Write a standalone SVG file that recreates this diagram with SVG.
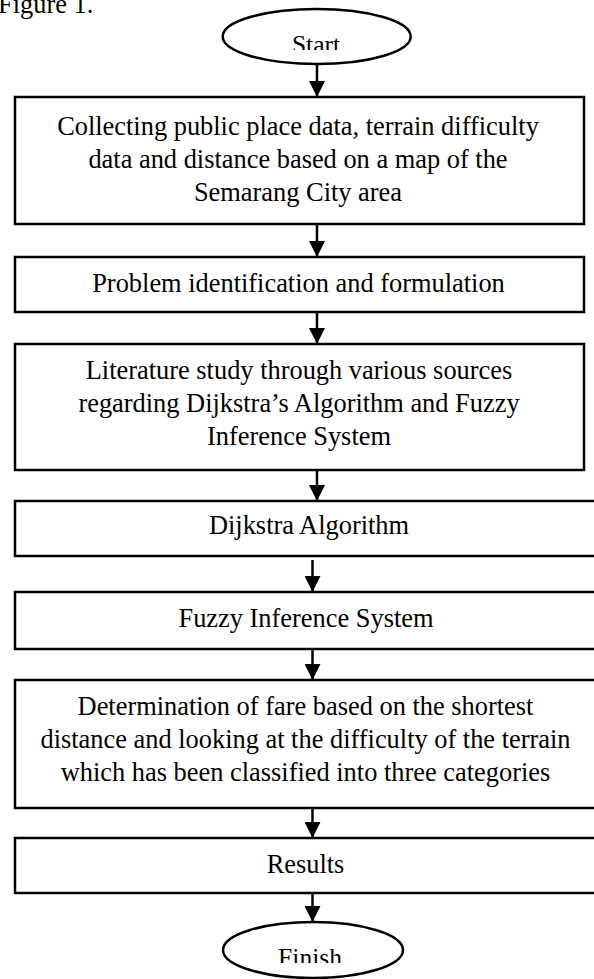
<svg xmlns="http://www.w3.org/2000/svg" width="594" height="979" viewBox="0 0 594 979">
<style>
.box{fill:#fff;stroke:#000;stroke-width:2.5}
.term{fill:#fff;stroke:#000;stroke-width:2.5}
.t{font-family:"Liberation Serif","Times New Roman",serif;font-size:26.4px;fill:#000;text-anchor:middle}
.tt{font-family:"Liberation Serif","Times New Roman",serif;font-size:25.5px;fill:#000;text-anchor:middle}
.c{stroke:#000;stroke-width:2.5;fill:none;marker-end:url(#ah)}
</style>
<defs>
<marker id="ah" markerUnits="userSpaceOnUse" markerWidth="16" markerHeight="16" refX="15" refY="7.5" orient="auto" viewBox="0 0 15 15">
<path d="M0,0 L15,7.5 L0,15 z" fill="#000"/>
</marker>
<clipPath id="clipStart"><rect x="0" y="0" width="594" height="50"/></clipPath>
<clipPath id="clipFinish"><rect x="0" y="900" width="594" height="63"/></clipPath>
</defs>
<rect width="594" height="979" fill="#fff"/>
<text x="-2" y="13" font-family="'Liberation Serif','Times New Roman',serif" font-size="26.4" fill="#000">Figure 1.</text>
<g id="connectors">
<line class="c" x1="317" y1="64" x2="317" y2="97"/>
<line class="c" x1="317" y1="225" x2="317" y2="257"/>
<line class="c" x1="317" y1="313" x2="317" y2="344"/>
<line class="c" x1="317" y1="471" x2="317" y2="501"/>
<line class="c" x1="312.5" y1="560" x2="312.5" y2="592"/>
<line class="c" x1="312.5" y1="650" x2="312.5" y2="680"/>
<line class="c" x1="312.5" y1="809" x2="312.5" y2="838"/>
<line class="c" x1="312.5" y1="894" x2="312.5" y2="922"/>
</g>
<g id="start">
<ellipse class="term" cx="316.7" cy="36.5" rx="94" ry="27.5"/>
<text class="tt" x="316" y="53" clip-path="url(#clipStart)">Start</text>
</g>
<g id="collect">
<rect class="box" x="15" y="97" width="569" height="127"/>
<text class="t" x="298" y="135">Collecting public place data, terrain difficulty</text>
<text class="t" x="298" y="168">data and distance based on a map of the</text>
<text class="t" x="298" y="201">Semarang City area</text>
</g>
<g id="problem">
<rect class="box" x="15" y="257" width="569" height="55"/>
<text class="t" x="298.5" y="292">Problem identification and formulation</text>
</g>
<g id="literature">
<rect class="box" x="15" y="344" width="569" height="126"/>
<text class="t" x="299" y="379">Literature study through various sources</text>
<text class="t" x="299" y="412">regarding Dijkstra’s Algorithm and Fuzzy</text>
<text class="t" x="299" y="445">Inference System</text>
</g>
<g id="dijkstra">
<rect class="box" x="15" y="501" width="600" height="55"/>
<text class="t" x="309" y="534">Dijkstra Algorithm</text>
</g>
<g id="fuzzy">
<rect class="box" x="15" y="592" width="600" height="57"/>
<text class="t" x="306" y="627">Fuzzy Inference System</text>
</g>
<g id="fare">
<rect class="box" x="15" y="680" width="600" height="128"/>
<text class="t" x="305.5" y="715">Determination of fare based on the shortest</text>
<text class="t" x="305.5" y="748">distance and looking at the difficulty of the terrain</text>
<text class="t" x="305.5" y="781">which has been classified into three categories</text>
</g>
<g id="results">
<rect class="box" x="15" y="838" width="600" height="55"/>
<text class="t" x="305.5" y="873">Results</text>
</g>
<g id="finish">
<ellipse class="term" cx="313" cy="950" rx="90" ry="28"/>
<text class="tt" x="310" y="966" clip-path="url(#clipFinish)">Finish</text>
</g>
</svg>
